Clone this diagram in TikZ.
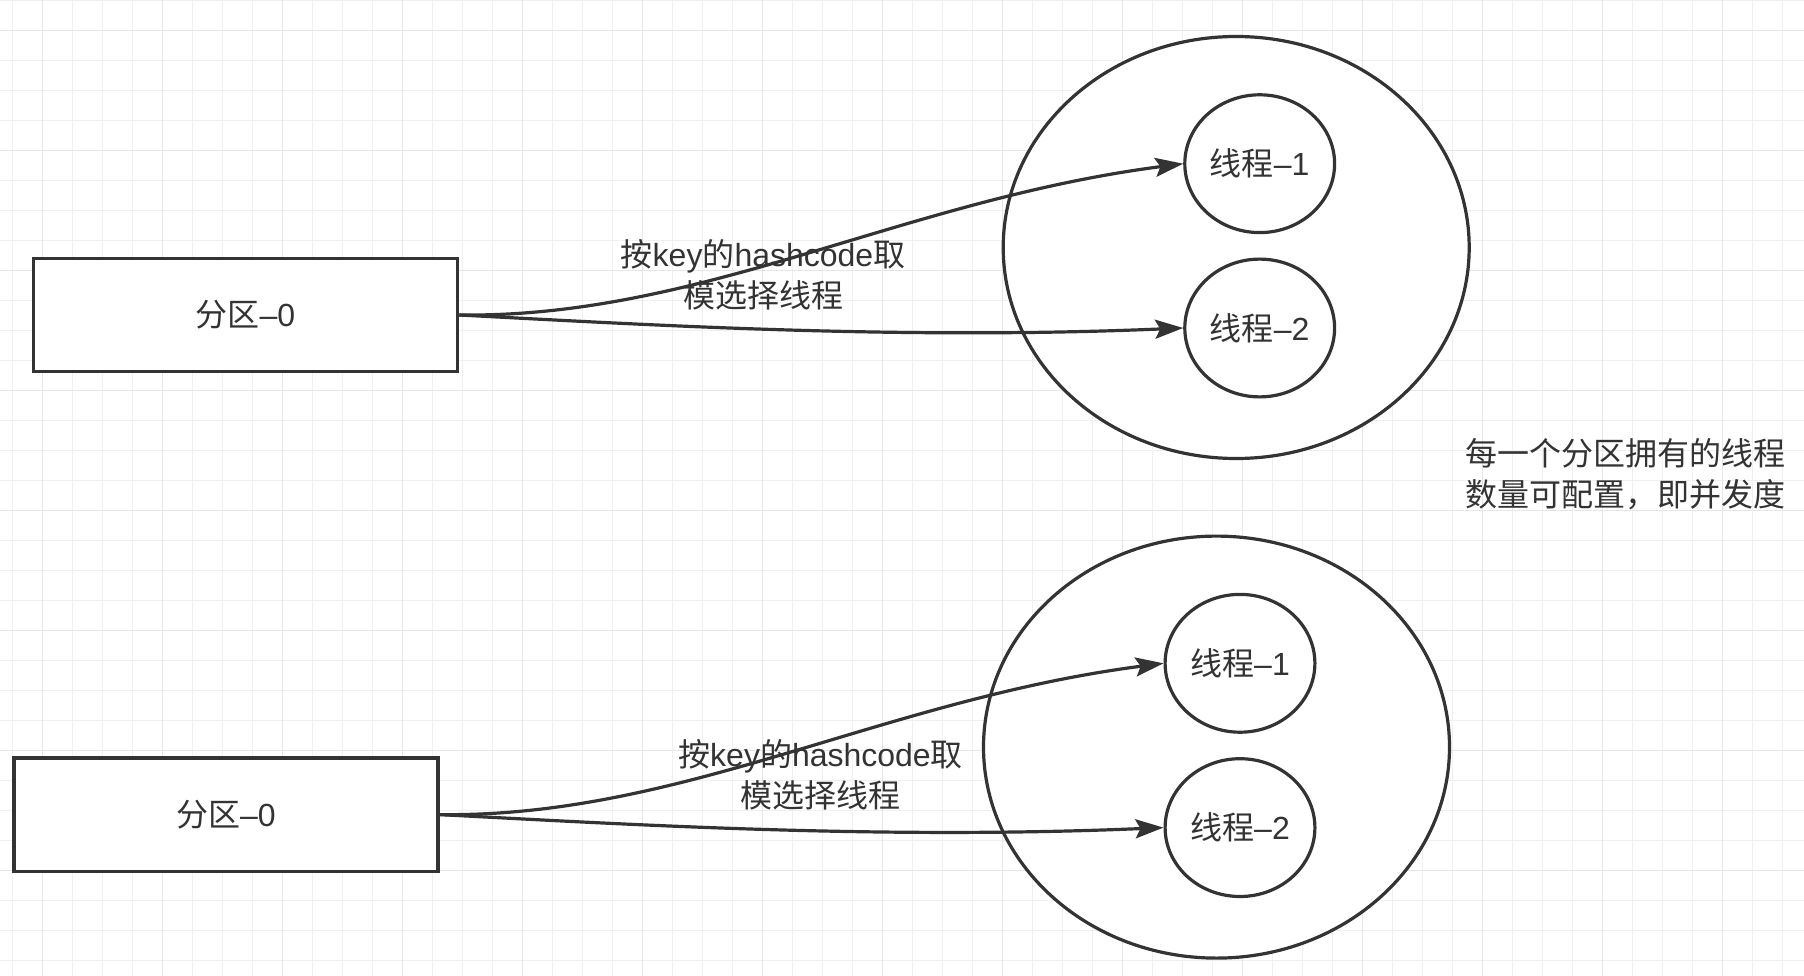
\documentclass[tikz,border=0pt]{standalone}
\usepackage{fontspec}
\setmainfont{Liberation Sans}
\newfontfamily\cjk{Noto Sans CJK SC}
\newcommand{\zh}[1]{{\cjk #1}}
\usetikzlibrary{arrows.meta,shapes.geometric}
\definecolor{ink}{HTML}{333333}
\definecolor{gridminor}{HTML}{F0F0F0}
\definecolor{gridmajor}{HTML}{E6E6E6}
\begin{document}
\begin{tikzpicture}[x=1pt,y=-1pt,
  txt/.style={text=ink, font=\fontsize{32}{41}\selectfont},
  partbox/.style={txt, draw=ink, line width=3.5pt, fill=white, rectangle,
    minimum width=424pt, minimum height=113.3pt, inner sep=0pt},
  pool/.style={draw=ink, line width=3.2pt, fill=white, ellipse,
    minimum width=466pt, minimum height=422pt, inner sep=0pt},
  thread/.style={txt, draw=ink, line width=3.2pt, fill=white, ellipse,
    minimum width=149.8pt, minimum height=137.8pt, inner sep=0pt},
  conn/.style={draw=ink, line width=3.2pt, -{Stealth[length=28pt,width=19pt,inset=5pt]}},
  lbl/.style={txt, align=center, inner sep=0pt}
]
\useasboundingbox (0,0) rectangle (1804,976);
% grid
\foreach \i in {0,...,59} {\draw[gridminor, line width=1.3pt] ({12.7+30*\i},0) -- ({12.7+30*\i},976);}
\foreach \j in {0,...,32} {\draw[gridminor, line width=1.3pt] (0,{0.7+30*\j}) -- (1804,{0.7+30*\j});}
\foreach \i in {0,...,14} {\draw[gridmajor, line width=1.5pt] ({42.7+120*\i},0) -- ({42.7+120*\i},976);}
\foreach \j in {0,...,7} {\draw[gridmajor, line width=1.5pt] (0,{30.7+120*\j}) -- (1804,{30.7+120*\j});}

% top group
\node[pool] (p1) at (1236.2,247.5) {};
\node[partbox] (b1) at (245.5,315) {\zh{分区}–0};
\node[thread] (t11) at (1259.7,163.7) {\zh{线程}–1};
\node[thread] (t12) at (1259.7,328) {\zh{线程}–2};
\draw[conn] (b1.east) .. controls +(242,3) and +(-282.7,36.7) .. (t11.west);
\draw[conn] (b1.east) .. controls +(192,10) and +(-282.7,12) .. (t12.west);
\node[lbl] (l1) at (763,275) {\zh{按}key\zh{的}hashcode\zh{取}\\\zh{模选择线程}};

% bottom group
\node[pool] (p2) at (1216.5,747.1) {};
\node[partbox] (b2) at (225.8,814.6) {\zh{分区}–0};
\node[thread] (t21) at (1240,663.3) {\zh{线程}–1};
\node[thread] (t22) at (1240,827.6) {\zh{线程}–2};
\draw[conn] (b2.east) .. controls +(242,3) and +(-282.7,36.7) .. (t21.west);
\draw[conn] (b2.east) .. controls +(192,10) and +(-282.7,12) .. (t22.west);
\node[lbl] (l2) at (820.5,774.5) {\zh{按}key\zh{的}hashcode\zh{取}\\\zh{模选择线程}};

% note
\node[lbl] (note) at (1625,474) {\zh{每一个分区拥有的线程}\\\zh{数量可配置，即并发度}};
\end{tikzpicture}
\end{document}
